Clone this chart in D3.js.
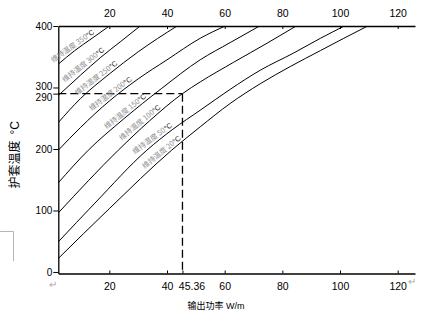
<!DOCTYPE html>
<html>
<head>
<meta charset="utf-8">
<script src="https://cdn.jsdelivr.net/npm/d3@7"></script>
<style>
  body { margin: 0; background: #fff; }
  text { font-family: "Liberation Sans", Arial, sans-serif; }
</style>
</head>
<body>
<svg id="chart" width="434" height="323"></svg>
<script>
// maintain temperatures, one curve each: [output power W/m, sheath temperature °C]
const maintainTemps = [20, 50, 100, 150, 200, 250, 300, 350];
const curve20 = [[2.3, 22], [20, 103], [41.6, 198], [51.5, 236], [61.9, 274], [72.3, 306], [82.7, 334], [93.2, 360], [101.3, 380], [109.6, 400]];
const curve50 = [[2.3, 49], [15, 112], [33, 198], [42, 232], [51.5, 263], [61.9, 297], [72.3, 328], [83.9, 356], [93.2, 380], [101.5, 400]];
const curve100 = [[2.3, 96], [23.1, 198], [34, 246], [45.36, 290], [51.5, 309], [63.1, 341], [74.7, 372], [84.8, 400]];
const curve150 = [[2.3, 145], [12.7, 198], [25, 249], [38, 298], [51.5, 345], [61.9, 373], [72.1, 400]];
const curve200 = [[2.3, 198], [10, 235], [20, 278], [30, 314], [40, 345], [51.5, 380], [60.2, 400]];
const curve250 = [[2.3, 243], [10, 282], [20, 322], [30, 358], [43.5, 400]];
const curve300 = [[2.3, 287], [10, 320], [17, 349], [24, 375], [30.7, 400]];
const curve350 = [[2.3, 338], [8, 360], [14, 380], [20, 400]];
const curves = [curve20, curve50, curve100, curve150, curve200, curve250, curve300, curve350];

// power where each curve label ends
const labelPower = [45.5, 42.5, 38.5, 33.5, 28.5, 23.5, 19, 15.5];

const topTicks = [20, 40, 60, 80, 100, 120];
const bottomTicks = [20, 40, 45.36, 60, 80, 100, 120];
const yTicks = [0, 100, 200, 290, 300, 400];
const markPower = 45.36, markTemp = 290;

const svg = d3.select('#chart');

const x = d3.scaleLinear().domain([2.3, 126]).range([58.3, 415]);
const y = d3.scaleLinear().domain([-2.5, 400]).range([273.5, 26]);

svg.append('defs').append('clipPath').attr('id', 'plotClip')
  .append('rect')
    .attr('x', x.range()[0]).attr('y', y.range()[1])
    .attr('width', x.range()[1] - x.range()[0])
    .attr('height', y.range()[0] - y.range()[1]);

// curves
const line = d3.line()
  .x(d => x(d[0]))
  .y(d => y(d[1]))
  .curve(d3.curveMonotoneX);

svg.append('g').attr('clip-path', 'url(#plotClip)')
  .selectAll('path')
  .data(curves)
  .join('path')
    .attr('d', line)
    .attr('fill', 'none')
    .attr('stroke', '#000')
    .attr('stroke-width', 1);

// dashed marker for 45.36 W/m -> 290 °C
const dash = svg.append('g')
  .attr('stroke', '#000')
  .attr('stroke-width', 1.3)
  .attr('stroke-dasharray', '8,4');
dash.append('line')
  .attr('x1', x.range()[0]).attr('x2', x(markPower))
  .attr('y1', y(markTemp)).attr('y2', y(markTemp));
dash.append('line')
  .attr('x1', x(markPower)).attr('x2', x(markPower))
  .attr('y1', y(markTemp)).attr('y2', y.range()[0]);

// axes
const axisStyle = g => {
  g.select('.domain').attr('stroke-width', 1.3);
  g.selectAll('.tick line').attr('stroke-width', 1);
  g.selectAll('.tick text')
    .attr('font-family', '"Liberation Sans", Arial, sans-serif')
    .attr('font-size', 10.5)
    .attr('fill', '#000');
};

svg.append('g')
  .attr('transform', `translate(0,${y.range()[1]})`)
  .call(d3.axisTop(x).tickValues(topTicks).tickFormat(d3.format('d'))
    .tickSizeInner(-3).tickSizeOuter(0).tickPadding(9))
  .call(axisStyle);

svg.append('g')
  .attr('transform', `translate(0,${y.range()[0]})`)
  .call(d3.axisBottom(x).tickValues(bottomTicks).tickFormat(d => d === markPower ? '45.36' : d)
    .tickSizeInner(-3).tickSizeOuter(0).tickPadding(9))
  .call(axisStyle)
  .call(g => g.selectAll('.tick')
    .filter(d => d === markPower)
    .select('text').attr('dx', 9));

svg.append('g')
  .attr('transform', `translate(${x.range()[0]},0)`)
  .call(d3.axisLeft(y).tickValues(yTicks).tickSizeInner(5).tickSizeOuter(0).tickPadding(1))
  .call(axisStyle)
  .call(g => g.selectAll('.tick text').attr('font-size', 10))
  .call(g => g.selectAll('.tick').filter(d => d === 290).select('text').attr('dy', '0.72em'))
  .call(g => g.selectAll('.tick').filter(d => d === 300).select('text').attr('dy', '0.2em'));

// curve labels
function tempAt(pts, p) {
  const i = Math.max(1, Math.min(pts.length - 1, d3.bisector(d => d[0]).left(pts, p)));
  const a = pts[i - 1], b = pts[i];
  return a[1] + (b[1] - a[1]) * (p - a[0]) / (b[0] - a[0]);
}

const labels = svg.append('g');
curves.forEach((pts, i) => {
  const p = labelPower[i];
  const px = x(p), py = y(tempAt(pts, p));
  const ang = Math.atan2(y(tempAt(pts, p + 2)) - y(tempAt(pts, p - 2)), x(p + 2) - x(p - 2)) * 180 / Math.PI;
  const t = labels.append('text')
    .attr('transform', `translate(${px},${py}) rotate(${ang})`)
    .attr('dy', -2.5)
    .attr('text-anchor', 'end')
    .attr('font-size', 7.3);
  t.append('tspan')
    .attr('font-family', '"Noto Sans CJK SC", sans-serif')
    .attr('fill', '#8f8f8f')
    .text('维持温度 ' + maintainTemps[i]);
  t.append('tspan').attr('fill', '#222').text('°C');
});

// axis titles
svg.append('text')
  .attr('transform', `translate(19,${(y.range()[0] + y.range()[1]) / 2 + 5}) rotate(-90)`)
  .attr('text-anchor', 'middle')
  .attr('font-size', 12)
  .call(t => {
    t.append('tspan').attr('font-family', '"Noto Sans CJK SC", sans-serif').text('护套温度');
    t.append('tspan').attr('dx', 6).text('°C');
  });

svg.append('text')
  .attr('x', 216).attr('y', 309)
  .attr('text-anchor', 'middle')
  .attr('font-size', 9)
  .call(t => {
    t.append('tspan').attr('font-family', '"Noto Sans CJK SC", sans-serif').text('输出功率');
    t.append('tspan').text(' W/m');
  });

// stray marks from the source document
svg.append('path')
  .attr('d', 'M0,231.5H13.5V261')
  .attr('fill', 'none')
  .attr('stroke', '#b5b5b5')
  .attr('stroke-width', 1);
svg.selectAll('.ret')
  .data([[53, 288], [412, 285]])
  .join('text')
    .attr('class', 'ret')
    .attr('x', d => d[0]).attr('y', d => d[1])
    .attr('text-anchor', 'middle')
    .attr('font-size', 10)
    .attr('fill', '#aaa')
    .text('↵');
</script>
</body>
</html>
